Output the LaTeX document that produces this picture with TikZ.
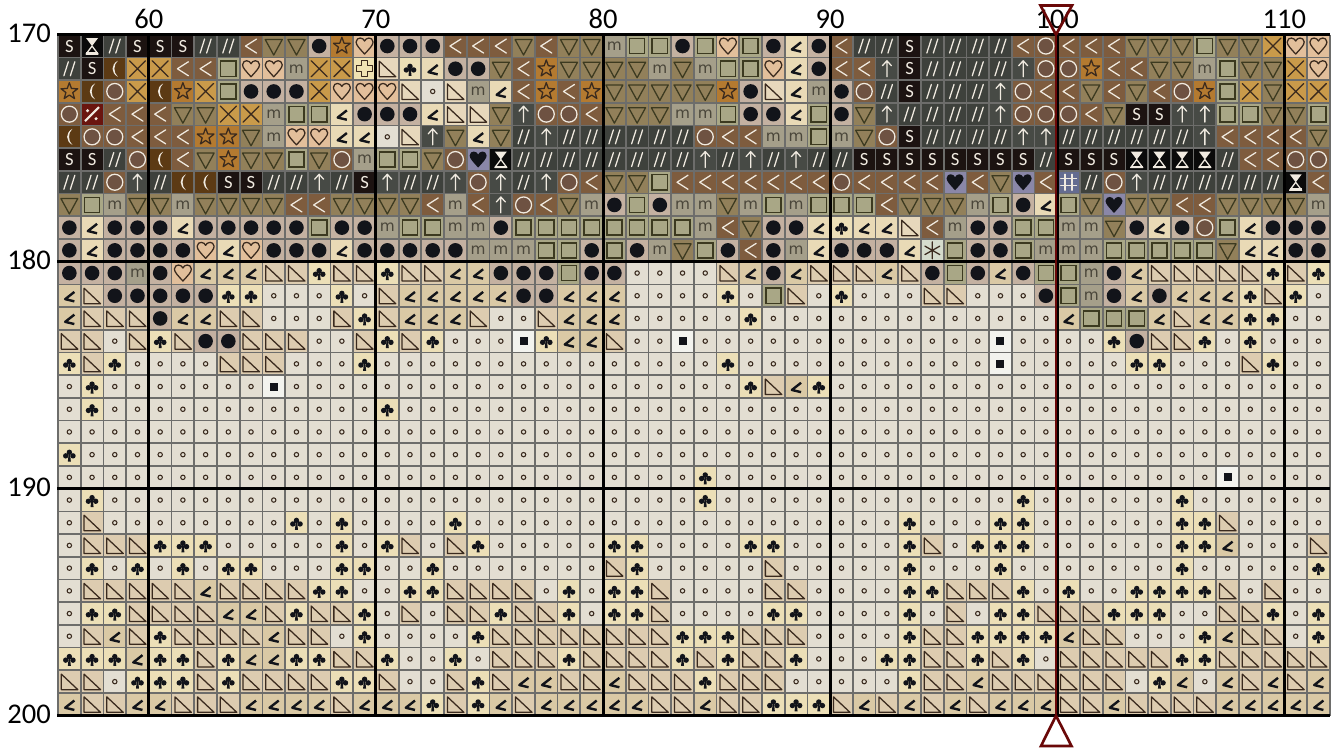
\documentclass[tikz,border=0pt]{standalone}
\usepackage{fontspec}
\setmainfont{Carlito}
\newfontfamily\symfont{DejaVu Sans}
\usepackage{xcolor}
\definecolor{bgS}{HTML}{1C1311}
\definecolor{bgH}{HTML}{0A0A0A}
\definecolor{bgD}{HTML}{3E413C}
\definecolor{bgM}{HTML}{5C3A14}
\definecolor{bgX}{HTML}{C99A4A}
\definecolor{bgL}{HTML}{7E5C3E}
\definecolor{bgV}{HTML}{92805A}
\definecolor{bgB}{HTML}{C4B1A1}
\definecolor{bgT}{HTML}{B47A30}
\definecolor{bgY}{HTML}{E2BF9B}
\definecolor{bgm}{HTML}{A59F8A}
\definecolor{bgQ}{HTML}{A9A786}
\definecolor{bgP}{HTML}{EFE2B2}
\definecolor{bgC}{HTML}{6E5242}
\definecolor{bgR}{HTML}{6A150F}
\definecolor{bga}{HTML}{DAC9A5}
\definecolor{bgA}{HTML}{E9DAB6}
\definecolor{bgU}{HTML}{474A45}
\definecolor{bgt}{HTML}{DDCCB0}
\definecolor{bgG}{HTML}{E7D8BC}
\definecolor{bgc}{HTML}{ECDFB7}
\definecolor{bgo}{HTML}{E3DED2}
\definecolor{bgK}{HTML}{8A87A8}
\definecolor{bgN}{HTML}{646C90}
\definecolor{bgW}{HTML}{D5DCCD}
\definecolor{bgb}{HTML}{F3F3EE}
\definecolor{inkdark}{HTML}{12141A}
\definecolor{inkolive}{HTML}{3C3A20}
\definecolor{inkbrown}{HTML}{3A2A1E}
\definecolor{inklight}{HTML}{F0EAE0}
\definecolor{inkm}{HTML}{4A463A}
\definecolor{gridgrey}{HTML}{6D6D6B}
\definecolor{markred}{HTML}{6A0808}

\def\cellbg#1{\fill[#1] (-11.5,-11.5) rectangle (11.5,11.5);}
\def\heartpath{(0,8) .. controls (-5,2.5) and (-8.5,-1) .. (-8.5,-4) .. controls (-8.5,-7) and (-6,-8) .. (-4.3,-8) .. controls (-2,-8) and (-0.8,-6.5) .. (0,-5) .. controls (0.8,-6.5) and (2,-8) .. (4.3,-8) .. controls (6,-8) and (8.5,-7) .. (8.5,-4) .. controls (8.5,-1) and (5,2.5) .. (0,8) -- cycle}
\def\anglepath{(5,-3.8) -- (-4.2,3.4) -- (5,5.6)}
\def\rtripath{(-8,-7.5) -- (-8,8) -- (8.5,8) -- cycle}

\tikzset{
    glyph/.style={line width=0.95pt, line cap=round, line join=round},
    bold glyph/.style={line width=1.8pt, line join=round},
    symS/.pic={\cellbg{bgS}\node[text=inklight, font=\fontsize{14}{14}\selectfont] (txt) {S};},
    symH/.pic={\cellbg{bgH}
        \fill[inklight] (-6,-8) -- (6,-8) -- (0,0) -- cycle;
        \draw[glyph, inklight] (0,0) -- (-6,8) -- (6,8) -- cycle;
        \fill[inklight] (-6,6) rectangle (6,8.5);},
    symD/.pic={\cellbg{bgD}
        \draw[glyph, inklight] (-5.5,7) -- (-1,-7) (1,7) -- (5.5,-7);},
    symM/.pic={\cellbg{bgM}
        \fill[inklight] (3,-8) .. controls (-4,-4) and (-4,4) .. (3,8) .. controls (-1.5,4) and (-1.5,-4) .. cycle;},
    symX/.pic={\cellbg{bgX}
        \draw[glyph, inkbrown] (-8,-8) -- (8,8) (8,-8) -- (-8,8);},
    symL/.pic={\cellbg{bgL}
        \draw[glyph, inklight] (5.5,-7) -- (-5.5,0) -- (5.5,7);},
    symV/.pic={\cellbg{bgV}
        \draw[glyph, inkolive] (-8.5,-6.5) -- (8.5,-6.5) -- (0,9) -- cycle;},
    symB/.pic={\cellbg{bgB}\fill[inkdark] (0,0) circle (7.3);},
    symT/.pic={\cellbg{bgT}
        \draw[glyph, inkbrown] (-90:8.8) -- (-54:3.6) -- (-18:8.8) -- (18:3.6) -- (54:8.8) -- (90:3.6) -- (126:8.8) -- (162:3.6) -- (198:8.8) -- (234:3.6) -- cycle;},
    symY/.pic={\cellbg{bgY}\draw[glyph, inkbrown] \heartpath;},
    symm/.pic={\cellbg{bgm}\node[text=inkm, font=\symfont\fontsize{11.5}{12}\selectfont] (txt) {m};},
    symQ/.pic={\cellbg{bgQ}\draw[line width=1.15pt, inkolive] (-7.6,-7.6) rectangle (7.6,7.6);},
    symP/.pic={\cellbg{bgP}
        \draw[glyph, inkbrown] (-3,-8) -- (3,-8) -- (3,-3) -- (8,-3) -- (8,3) -- (3,3) -- (3,8) -- (-3,8) -- (-3,3) -- (-8,3) -- (-8,-3) -- (-3,-3) -- cycle;},
    symC/.pic={\cellbg{bgL}\draw[glyph, inklight, fill=bgC] (0,0) circle (8);},
    symR/.pic={\cellbg{bgR}
        \draw[line width=1.6pt, inklight] (-7,7) -- (7,-7);
        \fill[inklight] (-4.5,-3.5) circle (1.7) (4,4.5) circle (1.7);},
    syma/.pic={\cellbg{bga}\draw[bold glyph, inkdark] \anglepath;},
    symA/.pic={\cellbg{bgA}\draw[bold glyph, inkdark] \anglepath;},
    symU/.pic={\cellbg{bgU}
        \draw[glyph, inklight] (0,8) -- (0,-8) (-4.5,-3) -- (0,-8) -- (4.5,-3);},
    symt/.pic={\cellbg{bgt}\draw[glyph, inkbrown] \rtripath;},
    symG/.pic={\cellbg{bgG}\draw[glyph, inkbrown] \rtripath;},
    symc/.pic={\cellbg{bgc}
        \fill[inkdark] (0,-2.4) circle (2.7) (-3.65,1.2) circle (2.7) (3.65,1.2) circle (2.7);
        \fill[inkdark] (-0.7,-1) -- (0.7,-1) -- (1.5,7) -- (-1.5,7) -- cycle;},
    symo/.pic={\cellbg{bgo}\draw[line width=0.8pt, inkbrown] (0,0) circle (2.2);},
    symK/.pic={\cellbg{bgK}\fill[inkdark] \heartpath;},
    symN/.pic={\cellbg{bgN}
        \draw[glyph, inklight] (-3.5,-8) -- (-3.5,8) (3.5,-8) -- (3.5,8) (-8,-3.5) -- (8,-3.5) (-8,3.5) -- (8,3.5);},
    symW/.pic={\cellbg{bgW}
        \draw[glyph, inkbrown] (0,-8.5) -- (0,8.5) (-7.4,-4.2) -- (7.4,4.2) (7.4,-4.2) -- (-7.4,4.2);},
    symb/.pic={\cellbg{bgb}\fill[inkdark] (-4,-4) rectangle (4,4);},
    collabel/.style={font=\fontsize{21.4}{24}\selectfont, inner sep=0pt},
}

\newcount\cellcol
\def\walkrow#1{\ifx#1\relax\else
    \pic (c\rowidx-\the\cellcol) at ({69.355+22.71*\the\cellcol},{46.05+22.7*\rowidx}) {sym#1};
    \global\advance\cellcol by 1
    \expandafter\walkrow\fi}
\def\drawrow#1{\global\cellcol=0 \walkrow#1\relax}

\begin{document}
\begin{tikzpicture}[x=0.75pt, y=-0.75pt]
    \useasboundingbox (0,0) rectangle (1336,753);

    % one line of letters per chart row, columns 56 to 111
    \foreach \rowdata [count=\rowidx from 0] in {
        SHDS SSDDLVVBTY BBBLLLVLVV mQQBQYQBAB LDDSDDDDLC LLLVVVQVVX YY,
        DSMX XLLQYYmXXP GcABBVLTVV VVmVmQQYAB LLUSDDDDUC CTLLVVmQVV XY,
        TMCX MTXQBBBXYY YGoGmALTLT VVVVVTBGAm BCDSDDDUCL LVLVLCTQXV XX,
        CRLL LVVXXmQQAB BBAGGVUCCL VVVmmQBBAQ BVUDDDDUCC CLVSSUUQQV VQ,
        MCCL LLTTVmYYAA oGUVAVDUDD DDDDCLLmmQ mVCSDDDDUU DDDDDDULLL LV,
        SSDC MLVTVVQVCm QQVCKHDDDD DDDDUDUDUD DSSSSSSSSD SSSHHHHDLL CC,
        DDCU DMMSSDDUDS UDDUCUDUCL VVQLLLLLLL CLLLLKLVKL NDCUDDDDDD HL,
        VQmV VmVVVVLLVV VVLmLUCLVm BQBmmVmQmQ QQLVVVmQBA QVKVVLLVVV Vm,
        BABB BABBBBBQBB mQQmmBQQQQ QQQQmLVBBA cAAGLmBBQQ mmVBABCQAB BB,
        BABB BBYAYBBBAB BBBBmmmQQB QBmVQBLBmA BBBAWQBBQm mmQQQQQVAA BB,
        BBBm BYaaattctt cttaaBBBQB BooootaBat ttatBQBaBQ QmBatttttc tc,
        atBB BBBccoooco taaaaaBBaa aoooocoQto cooottoooB QmBaBaaact co,
        attt Baattoootc taaatootaa aooooocooo oooooooooo aQQQataacc oo,
        ttot ctBBtttoot ctcooobcaa tooboooooo oooooooboo oocBttcoco oo,
        ctco oootttoooc oooooooooo ooooocoooo oooooooboo oooccoootc oo,
        ocoo oooooboooo oooooooooo ooooooctac oooooooooo oooooooooo oo,
        ocoo oooooooooo cooooooooo oooooooooo oooooooooo oooooooooo oo,
        oooo oooooooooo oooooooooo oooooooooo oooooooooo oooooooooo oo,
        cooo oooooooooo oooooooooo oooooooooo oooooooooo oooooooooo oo,
        oooo oooooooooo oooooooooo oooocooooo oooooooooo oooooooboo oo,
        ocoo oooooooooo oooooooooo oooocooooo ooooooooco ooooocoooo oo,
        otoo oooooococo ooocoooooo oooooooooo ooocooocco ooooocctoo oo,
        ottt cccoooooco ctotcooooo ccooooccoo oooctoccco oooooccaoo ot,
        ococ ococcooocc oocooooooo tcoooootoo ooocooocoo ooooocoooo oc,
        ottt ttattttcco occttttoco cctooootto ooocctttco coocccctot oo,
        occt tttaatcttc otottcttco cctoooocco ooocotocct ttcccoottc oc,
        otat cttttattoc oooocttttt tttcccttto ooocttcccc attooocatt oc,
        ccca cctcaacctt coocotttct tttctcttco ooccttctco tttttccttt tt,
        ttoc cctcttttcc tootctaatt atttctttoo ooocttattt tttocaoata ta,
        atta atttaaaata aactcataaa aattattccc tatatataaa ttattttaaa aa} {
        \expandafter\drawrow\expandafter{\rowdata}
    }

    % thin grid
    \foreach \c in {0,...,56}
        \draw[line width=1.3pt, gridgrey] ({58+22.71*\c},34.7) -- ({58+22.71*\c},715.7);
    \foreach \w in {0,...,30}
        \draw[line width=1.3pt, gridgrey] (58,{34.7+22.7*\w}) -- (1329.8,{34.7+22.7*\w});

    % heavy lines and labels every ten
    \foreach \c/\lab in {4/60,14/70,24/80,34/90,44/100,54/110} {
        \draw[line width=2.3pt, black] ({58+22.71*\c},34.7) -- ({58+22.71*\c},715.7);
        \node[collabel] (col\lab) at ({58+22.71*\c},19) {\lab};
    }
    \foreach \w/\lab in {0/170,10/180,20/190,30/200} {
        \draw[line width=2.3pt, black] (57,{34.7+22.7*\w}) -- (1329.8,{34.7+22.7*\w});
        \node[collabel, anchor=east] (row\lab) at (51,{33+22.7*\w}) {\lab};
    }

    % red position marker
    \coordinate (marktop) at (1056,34.7);
    \coordinate (markbot) at (1056,715.7);
    \draw[line width=2pt, markred] (marktop) -- (markbot);
    \draw[line width=2pt, markred] (marktop) -- (1040.5,5.5) -- (1072,5.5) -- cycle;
    \draw[line width=2pt, markred] (markbot) -- (1041,746) -- (1071.5,746) -- cycle;
\end{tikzpicture}
\end{document}
